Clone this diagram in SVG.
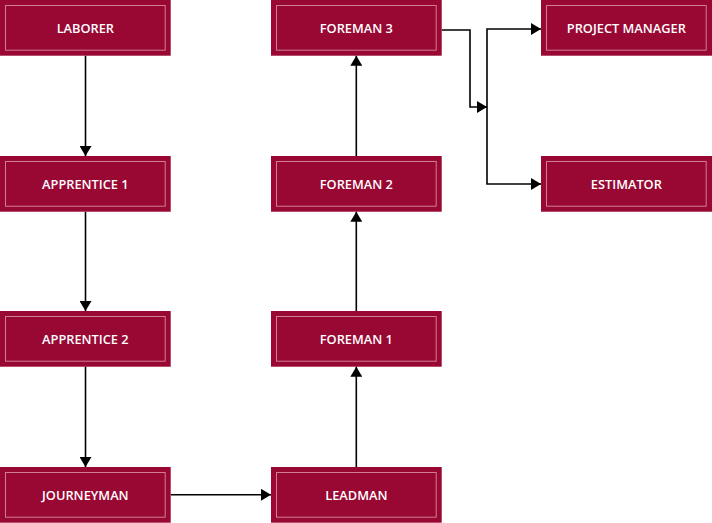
<svg xmlns="http://www.w3.org/2000/svg" width="712" height="523" viewBox="0 0 712 523">
<style>
.box{fill:#990733}
.inner{fill:none;stroke:#cf7d95;stroke-width:1}
.lbl{fill:#ffffff;font-family:"Open Sans","Liberation Sans",sans-serif;font-weight:600;font-size:12.8px;text-anchor:middle;dominant-baseline:central}
.edge{fill:none;stroke:#000000;stroke-width:1.6}
</style>
<defs>
<marker id="arr" markerUnits="userSpaceOnUse" markerWidth="11" markerHeight="12" refX="10" refY="6" orient="auto">
<path d="M0,0 L10,6 L0,12 z" fill="#000000"/>
</marker>
</defs>
<g id="connectors">
<path class="edge" d="M85.5,55.7 L85.5,156" marker-end="url(#arr)"/>
<path class="edge" d="M85.5,211.7 L85.5,311" marker-end="url(#arr)"/>
<path class="edge" d="M85.5,366.7 L85.5,467" marker-end="url(#arr)"/>
<path class="edge" d="M170.7,494.8 L271,494.8" marker-end="url(#arr)"/>
<path class="edge" d="M356.3,467 L356.3,366.7" marker-end="url(#arr)"/>
<path class="edge" d="M356.3,311 L356.3,211.7" marker-end="url(#arr)"/>
<path class="edge" d="M356.3,156 L356.3,55.7" marker-end="url(#arr)"/>
<path class="edge" d="M441.7,30 L470,30 L470,107 L487,107" marker-end="url(#arr)"/>
<path class="edge" d="M487,107 L487,29 L541,29" marker-end="url(#arr)"/>
<path class="edge" d="M487,107 L487,184 L541,184" marker-end="url(#arr)"/>
</g>
<g id="laborer"><rect class="box" x="0" y="0" width="170.7" height="55.7"/><rect class="inner" x="5.5" y="5.5" width="159.7" height="44.7"/><text class="lbl" x="85.35" y="28">LABORER</text></g>
<g id="apprentice1"><rect class="box" x="0" y="156" width="170.7" height="55.7"/><rect class="inner" x="5.5" y="161.5" width="159.7" height="44.7"/><text class="lbl" x="85.35" y="184">APPRENTICE 1</text></g>
<g id="apprentice2"><rect class="box" x="0" y="311" width="170.7" height="55.7"/><rect class="inner" x="5.5" y="316.5" width="159.7" height="44.7"/><text class="lbl" x="85.35" y="339">APPRENTICE 2</text></g>
<g id="journeyman"><rect class="box" x="0" y="467" width="170.7" height="55.7"/><rect class="inner" x="5.5" y="472.5" width="159.7" height="44.7"/><text class="lbl" x="85.35" y="495">JOURNEYMAN</text></g>
<g id="leadman"><rect class="box" x="271" y="467" width="170.7" height="55.7"/><rect class="inner" x="276.5" y="472.5" width="159.7" height="44.7"/><text class="lbl" x="356.35" y="495">LEADMAN</text></g>
<g id="foreman1"><rect class="box" x="271" y="311" width="170.7" height="55.7"/><rect class="inner" x="276.5" y="316.5" width="159.7" height="44.7"/><text class="lbl" x="356.35" y="339">FOREMAN 1</text></g>
<g id="foreman2"><rect class="box" x="271" y="156" width="170.7" height="55.7"/><rect class="inner" x="276.5" y="161.5" width="159.7" height="44.7"/><text class="lbl" x="356.35" y="184">FOREMAN 2</text></g>
<g id="foreman3"><rect class="box" x="271" y="0" width="170.7" height="55.7"/><rect class="inner" x="276.5" y="5.5" width="159.7" height="44.7"/><text class="lbl" x="356.35" y="28">FOREMAN 3</text></g>
<g id="projectmanager"><rect class="box" x="541" y="0" width="171" height="55.7"/><rect class="inner" x="546.5" y="5.5" width="159.7" height="44.7"/><text class="lbl" x="626.35" y="28">PROJECT MANAGER</text></g>
<g id="estimator"><rect class="box" x="541" y="156" width="171" height="55.7"/><rect class="inner" x="546.5" y="161.5" width="159.7" height="44.7"/><text class="lbl" x="626.35" y="184">ESTIMATOR</text></g>
</svg>
